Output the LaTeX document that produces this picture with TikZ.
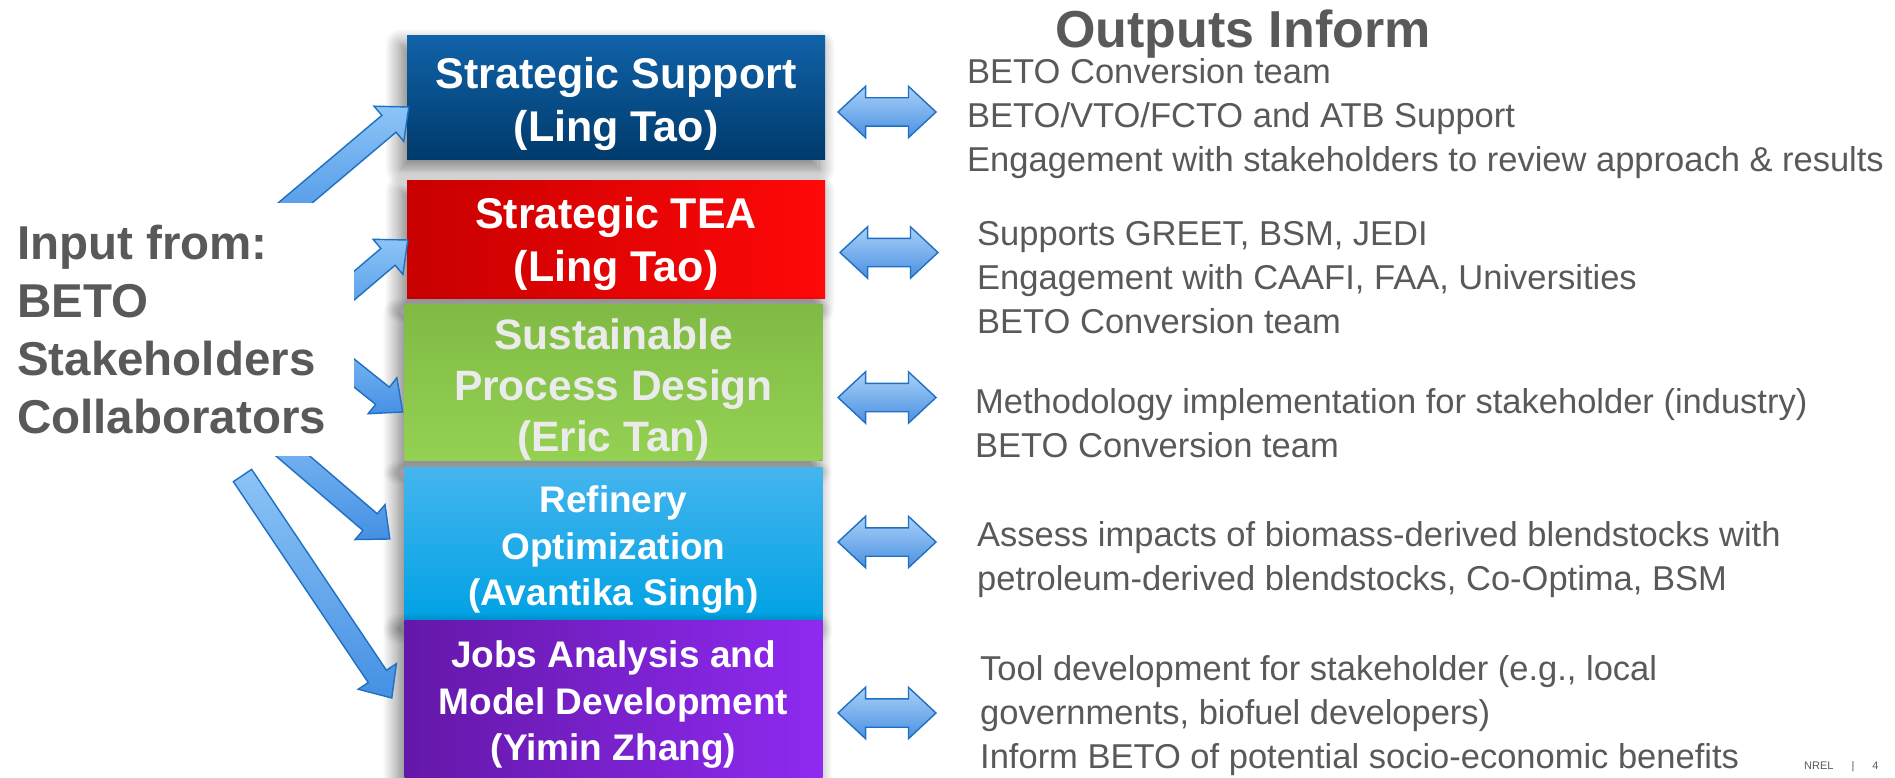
\documentclass[tikz,border=0pt]{standalone}
\usepackage{fontspec}
\setmainfont{Liberation Sans}
\usetikzlibrary{calc,shapes.arrows,shadows.blur}

\definecolor{txtgray}{HTML}{595959}
\definecolor{arrowline}{HTML}{1F6FC2}
\definecolor{arrowtop}{HTML}{8CC4F6}
\definecolor{arrowbot}{HTML}{4590E4}
\definecolor{dbltop}{HTML}{A9D1F7}
\definecolor{dblbot}{HTML}{4A90E2}

\tikzset{
  box/.style={rectangle, minimum width=418pt, inner sep=0pt, text=white, align=center,
    blur shadow={shadow xshift=-6pt, shadow yshift=-9pt, shadow blur radius=16pt, shadow blur steps=16, shadow opacity=55}},
  bigbox/.style={font=\bfseries\fontsize{43}{53}\selectfont},
  midbox/.style={font=\bfseries\fontsize{42.5}{51}\selectfont},
  smallbox/.style={font=\bfseries\fontsize{37}{46.5}\selectfont},
  inputbox/.style={anchor=north west, fill=white, minimum width=354pt, minimum height=253pt,
    text width=320pt, inner xsep=17pt, inner ysep=0pt, align=flush left, text=txtgray,
    font=\bfseries\fontsize{47.5}{58}\selectfont},
  title/.style={anchor=base, inner sep=0pt, text=txtgray, font=\bfseries\fontsize{52}{60}\selectfont},
  outtext/.style={anchor=base west, inner sep=0pt, align=left, text=txtgray,
    font=\fontsize{34.5}{44}\selectfont},
  footer/.style={anchor=base west, inner sep=0pt, text=txtgray, font=\fontsize{11}{13}\selectfont},
  dblarrow/.style={double arrow, draw=arrowline, line width=1.4pt, top color=dbltop, bottom color=dblbot,
    minimum height=98pt, double arrow head extend=11.5pt, double arrow tip angle=86, inner sep=0pt},
  inarrow/.style={draw=arrowline, line width=1.4pt, line join=miter, top color=arrowtop, bottom color=arrowbot}
}

\newcommand\fatarrow[2]{%
  \coordinate (fa-h) at ($(#2)!26pt!(#1)$);
  \path[inarrow] ($(#1)!11pt!90:(#2)$) -- ($(fa-h)!11pt!90:(#2)$) -- ($(fa-h)!23pt!90:(#2)$) -- (#2)
    -- ($(fa-h)!23pt!-90:(#2)$) -- ($(fa-h)!11pt!-90:(#2)$) -- ($(#1)!11pt!-90:(#2)$) -- cycle;
}

\begin{document}
\begin{tikzpicture}[x=1pt,y=-1pt]
\useasboundingbox (0,0) rectangle (1895,778);
\clip (0,0) rectangle (1895,778);

\node[box,bigbox,top color={rgb,255:red,16;green,98;blue,168},bottom color={rgb,255:red,0;green,58;blue,107},minimum height=124pt] (b1) at (616,98) {\rule{0pt}{43.5pt}Strategic Support\\(Ling Tao)};
\node[box,bigbox,left color={rgb,255:red,200;green,0;blue,0},right color={rgb,255:red,255;green,8;blue,8},minimum height=117pt] (b2) at (616,239.5) {\rule{0pt}{39.5pt}Strategic TEA\\(Ling Tao)};
\node[box,midbox,text=white!92!black,top color={rgb,255:red,128;green,186;blue,69},bottom color={rgb,255:red,148;green,209;blue,82},minimum height=145pt] (b3) at (613.5,382.5) {\rule{0pt}{45pt}Sustainable\\Process Design\\(Eric Tan)};
\node[box,smallbox,top color={rgb,255:red,69;green,181;blue,238},bottom color={rgb,255:red,0;green,162;blue,228},minimum height=153pt] (b4) at (613.5,543.5) {\rule{0pt}{39.5pt}Refinery\\Optimization\\(Avantika Singh)};
\node[box,smallbox,left color={rgb,255:red,100;green,24;blue,168},right color={rgb,255:red,142;green,42;blue,240},minimum height=170pt] (b5) at (613.5,705) {Jobs Analysis and\\Model Development\\(Yimin Zhang)};

\coordinate (s1) at (256,236);
\coordinate (s2) at (309,324);
\coordinate (s3) at (309,337);
\coordinate (s4) at (238,409);
\coordinate (s5) at (242.5,475.5);
\coordinate (e1) at ($(b1.west)+(2,9)$);
\coordinate (e2) at ($(b2.west)+(1,0.5)$);
\coordinate (e3) at ($(b3.west)+(-1.5,29.5)$);
\coordinate (e4) at ($(b4.west)+(-14.5,-4.5)$);
\coordinate (e5) at ($(b5.west)+(-12.5,-7)$);
\fatarrow{s1}{e1}
\fatarrow{s2}{e2}
\fatarrow{s3}{e3}
\fatarrow{s4}{e4}
\fatarrow{s5}{e5}

\node[inputbox] (input) at (0,203) {Input from:\\BETO\\Stakeholders\\Collaborators};

\node[title] (head) at (1243,48) {Outputs Inform};

\node[dblarrow] (d1) at (887,112) {\rule{0pt}{27pt}};
\node[dblarrow] (d2) at (889,252.5) {\rule{0pt}{27pt}};
\node[dblarrow] (d3) at (887,397.5) {\rule{0pt}{27pt}};
\node[dblarrow] (d4) at (887,542) {\rule{0pt}{27pt}};
\node[dblarrow] (d5) at (887,713) {\rule{0pt}{27pt}};

\node[outtext] (o1) at (967,172) {BETO Conversion team\\BETO/VTO/FCTO and ATB Support\\Engagement with stakeholders to review approach \& results};
\node[outtext] (o2) at (977,333) {Supports GREET, BSM, JEDI\\Engagement with CAAFI, FAA, Universities\\BETO Conversion team};
\node[outtext] (o3) at (975,457) {Methodology implementation for stakeholder (industry)\\BETO Conversion team};
\node[outtext] (o4) at (977,590) {Assess impacts of biomass-derived blendstocks with\\petroleum-derived blendstocks, Co-Optima, BSM};
\node[outtext] (o5) at (980,768) {Tool development for stakeholder (e.g., local\\governments, biofuel developers)\\Inform BETO of potential socio-economic benefits};

\node[footer] (nrel) at (1804,769) {NREL\hspace{18pt}|\hspace{18pt}4};
\end{tikzpicture}
\end{document}
